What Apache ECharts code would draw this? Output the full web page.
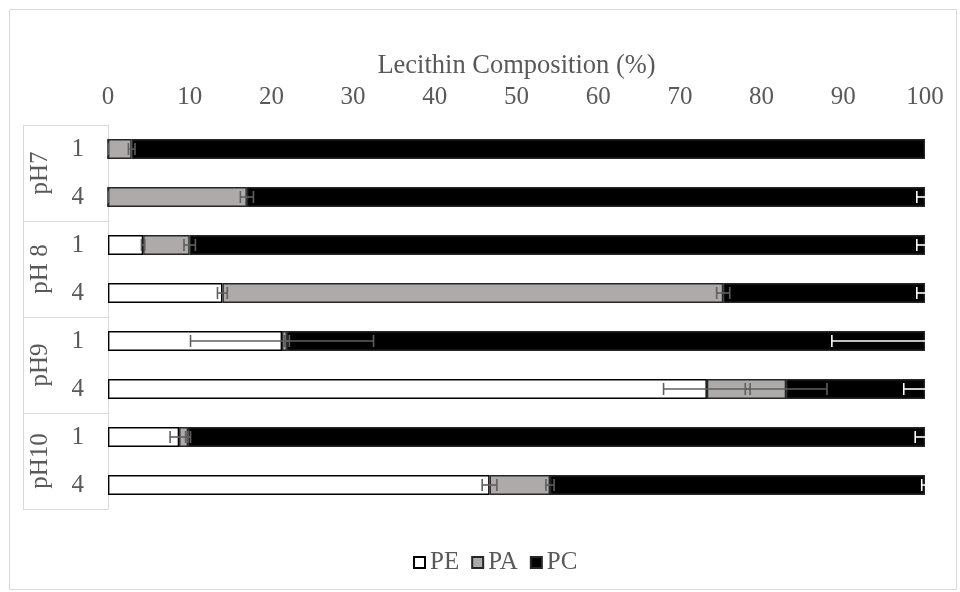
<!DOCTYPE html>
<html>
<head>
<meta charset="utf-8">
<style>
  html, body { margin: 0; padding: 0; background: #fff; }
  #chart { width: 960px; height: 592px; }
</style>
<script src="https://cdn.jsdelivr.net/npm/echarts@6/dist/echarts.min.js"></script>
</head>
<body>
<div id="chart"></div>
<script>
// ---- data ----
const categories = ['1', '4', '1', '4', '1', '4', '1', '4'];
const groupLabels = ['pH7', 'pH 8', 'pH9', 'pH10'];
const groupSize = 2;
const seriesNames = ['PE', 'PA', 'PC'];
const peValues = [0, 0, 4.3, 14.0, 21.3, 73.3, 8.7, 46.7];
const paValues = [2.9, 17.0, 5.7, 61.3, 0.6, 9.7, 1.1, 7.4];
const pcValues = [97.1, 83.0, 90.0, 24.7, 78.1, 17.0, 90.2, 45.9];
const peErr = [0, 0, 0.2, 0.6, 11.2, 5.3, 1.1, 0.9];
const paErr = [0.4, 0.8, 0.7, 0.8, 0.3, 5.0, 0.3, 0.5];
const pcErr = [0, 1.0, 1.0, 1.0, 11.4, 2.6, 1.2, 0.4];
const xTicks = { min: 0, max: 100, interval: 10 };

// ---- build ----
(function () {
const FONT = 'Liberation Serif';
const TXT = '#595959';
const FS = 25;

const peEnd = peValues.map(v => v);
const paEnd = peValues.map((v, i) => v + paValues[i]);
const pcEnd = paEnd.map((v, i) => v + pcValues[i]);

function errData(ends, errs) {
  return ends.map((e, i) => [e, i, errs[i]]);
}

function errRender(color) {
  return function (params, api) {
    const end = api.value(0), idx = api.value(1), e = api.value(2);
    const cs = params.coordSys;
    const a = api.coord([end - e, idx]);
    const b = api.coord([end + e, idx]);
    const xmin = cs.x, xmax = cs.x + cs.width;
    if (e === 0 && a[0] >= xmax - 0.5) return null;
    const x0 = Math.max(a[0], xmin), x1 = Math.min(b[0], xmax);
    const y = a[1];
    const h = 6;
    const style = { stroke: color, lineWidth: 1.6 };
    const children = [];
    if (x1 > x0) children.push({ type: 'line', shape: { x1: x0, y1: y, x2: x1, y2: y }, style });
    if (a[0] >= xmin - 0.5) children.push({ type: 'line', shape: { x1: a[0], y1: y - h, x2: a[0], y2: y + h }, style });
    if (b[0] <= xmax + 0.5) children.push({ type: 'line', shape: { x1: b[0], y1: y - h, x2: b[0], y2: y + h }, style });
    return { type: 'group', children };
  };
}

const barBorder = { borderColor: '#262626', borderWidth: 1.4 };
const chart = echarts.init(document.getElementById('chart'), null, { renderer: 'canvas' });

const option = {
  animation: false,
  backgroundColor: '#fff',
  textStyle: { fontFamily: FONT },
  grid: { left: 108, right: 35, top: 125, bottom: 83, containLabel: false },
  xAxis: {
    type: 'value', position: 'top',
    min: xTicks.min, max: xTicks.max, interval: xTicks.interval,
    name: 'Lecithin Composition (%)', nameLocation: 'middle', nameGap: 45,
    nameTextStyle: { fontFamily: FONT, fontSize: 26.5, color: TXT },
    axisLine: { show: false }, axisTick: { show: false }, splitLine: { show: false },
    axisLabel: { fontFamily: FONT, fontSize: FS, color: TXT, margin: 15 }
  },
  yAxis: {
    type: 'category', inverse: true, data: categories,
    axisLine: { show: true, lineStyle: { color: '#d9d9d9', width: 1 } },
    axisTick: { show: false },
    axisLabel: { fontFamily: FONT, fontSize: FS, color: TXT, margin: 24 }
  },
  legend: {
    data: seriesNames, bottom: 12, left: 408,
    icon: 'rect', itemWidth: 11, itemHeight: 11, itemGap: 12,
    textStyle: { fontFamily: FONT, fontSize: FS, color: TXT, padding: [0, 0, 0, 0] }
  },
  series: [
    { name: 'PE', type: 'bar', stack: 'total', barWidth: 20, data: peValues,
      itemStyle: Object.assign({ color: '#ffffff' }, barBorder, { borderColor: '#000' }) },
    { name: 'PA', type: 'bar', stack: 'total', barWidth: 20, data: paValues,
      itemStyle: Object.assign({ color: '#aeaaaa' }, barBorder) },
    { name: 'PC', type: 'bar', stack: 'total', barWidth: 20, data: pcValues,
      itemStyle: Object.assign({ color: '#000000' }, barBorder) },
    { type: 'custom', name: 'PE err', data: errData(peEnd, peErr), encode: { x: 0, y: 1 },
      renderItem: errRender('#5f5f5f'), z: 5 },
    { type: 'custom', name: 'PA err', data: errData(paEnd, paErr), encode: { x: 0, y: 1 },
      renderItem: errRender('#5f5f5f'), z: 5 },
    { type: 'custom', name: 'PC err', data: errData(pcEnd, pcErr), encode: { x: 0, y: 1 },
      renderItem: errRender('#ffffff'), z: 5 }
  ]
};
chart.setOption(option);

// ---- decorations: grouped category boxes ----
const y0 = chart.convertToPixel({ yAxisIndex: 0 }, 0);
const y1 = chart.convertToPixel({ yAxisIndex: 0 }, 1);
const band = y1 - y0;
const bandTop = y0 - band / 2;
const axisX = chart.convertToPixel({ xAxisIndex: 0 }, xTicks.min);
const boxLeft = 23;
const lineStyle = { stroke: '#d9d9d9', lineWidth: 1 };
const graphics = [];
graphics.push({ type: 'rect', shape: { x: 9.5, y: 9.5, width: 947, height: 580 },
  style: { fill: 'none', stroke: '#d9d9d9', lineWidth: 1 }, silent: true });
const nGroups = groupLabels.length;
graphics.push({ type: 'line', shape: { x1: boxLeft + 0.5, y1: bandTop, x2: boxLeft + 0.5, y2: bandTop + band * categories.length }, style: lineStyle });
for (let g = 0; g <= nGroups; g++) {
  const yy = Math.round(bandTop + g * groupSize * band) + 0.5;
  graphics.push({ type: 'line', shape: { x1: boxLeft, y1: yy, x2: axisX, y2: yy }, style: lineStyle });
}
groupLabels.forEach((lab, g) => {
  const cy = bandTop + (g + 0.5) * groupSize * band;
  graphics.push({
    type: 'text', x: 40, y: cy, rotation: Math.PI / 2,
    style: { text: lab, fontFamily: FONT, fontSize: FS, fill: TXT, align: 'center', verticalAlign: 'middle' }
  });
});
chart.setOption({ graphic: graphics });
})();
</script>
</body>
</html>
